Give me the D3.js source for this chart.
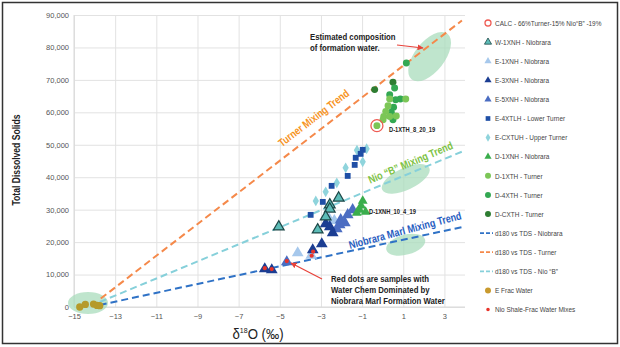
<!DOCTYPE html>
<html>
<head>
<meta charset="utf-8">
<script src="https://cdn.jsdelivr.net/npm/d3@7"></script>
<style>
  body { margin: 0; background: #fff; }
  svg text { font-family: "Liberation Sans", Arial, sans-serif; }
</style>
</head>
<body>
<script>
// chart values
const xTicks = [-15, -13, -11, -9, -7, -5, -3, -1, 1, 3];
const yTicks = [0, 10000, 20000, 30000, 40000, 50000, 60000, 70000, 80000, 90000];

const calc = [[-0.28, 55900]];
const w1xnh = [[-2.14, 33600], [-2.57, 31500], [-2.57, 30200], [-2.77, 27800], [-3.16, 23800], [-5.05, 24700]];
const e1xnh = [[-4.13, 16660], [-3.47, 15900], [-2.35, 26600], [-2.6, 27200]];
const e3xnh = [[-5.73, 11730], [-5.39, 11420], [-3.40, 17590], [-2.96, 19440], [-2.77, 25610], [-2.43, 22840], [-2.57, 24690]];
const e5xnh = [[-4.66, 13890], [-2.23, 24070], [-2.09, 25300], [-1.84, 25920], [-1.70, 28390], [-1.46, 29930], [-2.04, 26850]];
const e4xtlh = [[-0.97, 48450], [-1.07, 47200], [-1.31, 46000], [-1.36, 43800], [-1.70, 40400], [-2.48, 37340], [-2.91, 32400], [-3.50, 28400]];
const excxtuh = [[-0.78, 48760], [-1.25, 48300], [-0.97, 44750], [-1.80, 42900], [-2.23, 38270], [-2.77, 35500], [-3.25, 32700]];
const d1xnh = [[-0.97, 32700], [-1.05, 31200], [-1.12, 29900], [-1.26, 29000], [-0.83, 29300]];
const d1xth = [[-0.28, 55900], [0.34, 64100], [1.12, 64100], [0.26, 62000], [0.15, 60300], [0.05, 58700], [0.34, 58700], [0.02, 57700], [0.66, 58900]];
const d4xth = [[1.15, 75200], [0.58, 67500], [0.63, 63900], [0.86, 64100], [0.53, 61600], [0.42, 60000], [0.50, 57700], [0.34, 65400]];
const dcxth = [[0.50, 69300], [-0.39, 67000]];
const fracWater = [[-14.72, 0], [-14.45, 800], [-14.05, 900], [-13.88, 500], [-13.75, 400]];
const shaleMixes = [[-5.73, 11950], [-5.39, 11700], [-4.66, 14150], [-3.38, 17100], [-3.45, 15800]];

const niobraraTrend = [[-13.75, 620], [3.9, 24700]];
const turnerTrend = [[-13.7, 2600], [3.85, 88300]];
const nioBTrend = [[-13.75, 1540], [3.9, 48000]];

let margin = null, width = null, height = null;
let svg = null, plot = null;
let x, y = null;

setupCanvasSize();
appendSvg("body");
setupScales();
appendGrid();
appendEllipses();
appendTrendLines();
appendPoints();
appendAnnotations();
appendLegend();

function setupCanvasSize() {
  margin = {top: 15, left: 74, bottom: 40, right: 155};
  width = 620 - margin.left - margin.right;   // 391
  height = 347 - margin.top - margin.bottom;  // 292
}

function appendSvg(domElement) {
  svg = d3.select(domElement).append("svg")
    .attr("width", 620)
    .attr("height", 347);

  svg.append("rect")
    .attr("x", 2.5).attr("y", 2.5)
    .attr("width", 615).attr("height", 341)
    .style("fill", "#fff")
    .style("stroke", "#333")
    .style("stroke-width", 1.5);

  plot = svg.append("g")
    .attr("transform", `translate(${margin.left}, ${margin.top})`);
}

function setupScales() {
  x = d3.scaleLinear().domain([-15, 4]).range([0, width]);
  y = d3.scaleLinear().domain([0, 90000]).range([height, 0]);
}

// narrow text: the original uses a condensed face, so squeeze horizontally
function condText(parent, t, px, py, opt) {
  const o = Object.assign({size: 8, weight: "normal", fill: "#222", anchor: "start", rot: 0, sx: 0.84}, opt);
  return parent.append("text")
    .attr("transform", `translate(${px}, ${py}) rotate(${o.rot}) scale(${o.sx}, 1)`)
    .style("text-anchor", o.anchor)
    .style("font-size", o.size + "px")
    .style("font-weight", o.weight)
    .style("fill", o.fill)
    .text(t);
}

function appendGrid() {
  const xAxis = plot.append("g")
    .attr("transform", `translate(0, ${height})`)
    .call(d3.axisBottom(x).tickValues(xTicks).tickSize(-height).tickPadding(7).tickFormat(d3.format("d")));
  const yAxis = plot.append("g")
    .call(d3.axisLeft(y).tickValues(yTicks).tickSize(-width).tickPadding(5).tickFormat(d3.format(",")));

  [xAxis, yAxis].forEach(a => {
    a.select(".domain").remove();
    a.selectAll("line").style("stroke", "#e2e2e2").style("stroke-width", 1);
    a.selectAll("text").style("fill", "#555").style("font-size", "7.5px");
  });

  plot.append("line")
    .attr("x1", 0).attr("x2", width).attr("y1", height).attr("y2", height)
    .style("stroke", "#d8d8d8");
  plot.append("line")
    .attr("x1", 0).attr("x2", 0).attr("y1", 0).attr("y2", height)
    .style("stroke", "#d8d8d8");

  condText(svg, "Total Dissolved Solids", 20, 160, {size: 10, weight: "bold", anchor: "middle", rot: -90, sx: 0.86});

  const xl = svg.append("text")
    .attr("transform", "translate(258, 339) scale(0.88, 1)")
    .style("text-anchor", "middle")
    .style("font-size", "15px")
    .style("fill", "#222");
  xl.append("tspan").text("δ");
  xl.append("tspan").attr("dy", -6).style("font-size", "8px").text("18");
  xl.append("tspan").attr("dy", 6).text("O (‰)");
}

function appendEllipses() {
  const blobs = [
    {cx: -14.32, cy: 1230, rx: 20, ry: 11, rot: 0},
    {cx: 2.28, cy: 77150, rx: 29, ry: 15, rot: -52},
    {cx: 1.12, cy: 39500, rx: 26, ry: 11, rot: -25},
    {cx: 1.12, cy: 19200, rx: 20, ry: 10, rot: -15}
  ];
  plot.selectAll("ellipse.blob")
    .data(blobs)
    .enter()
    .append("ellipse")
    .attr("class", "blob")
    .attr("transform", d => `translate(${x(d.cx)}, ${y(d.cy)}) rotate(${d.rot})`)
    .attr("rx", d => d.rx)
    .attr("ry", d => d.ry)
    .style("fill", "#a9dcbc")
    .style("opacity", 0.75);
}

function appendTrendLines() {
  const line = d3.line().x(d => x(d[0])).y(d => y(d[1]));
  [[turnerTrend, "#f5894a"], [nioBTrend, "#86d0da"], [niobraraTrend, "#2f72c6"]].forEach(([data, color]) => {
    plot.append("path")
      .datum(data)
      .attr("d", line)
      .style("fill", "none")
      .style("stroke", color)
      .style("stroke-width", 2)
      .style("stroke-dasharray", "7,4");
  });
}

function drawSymbols(data, type, size, fill, stroke, sw) {
  plot.append("g").selectAll("path")
    .data(data)
    .enter()
    .append("path")
    .attr("transform", d => `translate(${x(d[0])}, ${y(d[1])})`)
    .attr("d", d3.symbol().type(type).size(size))
    .style("fill", fill)
    .style("stroke", stroke || "none")
    .style("stroke-width", sw || 0);
}

function appendPoints() {
  drawSymbols(fracWater, d3.symbolCircle, 42, "#b59a2a");
  drawSymbols(excxtuh, d3.symbolDiamond, 34, "#8fd4dc");
  drawSymbols(e4xtlh, d3.symbolSquare, 34, "#1f4fa6");
  drawSymbols(e1xnh, d3.symbolTriangle, 60, "#a6c8ec");
  drawSymbols(e5xnh, d3.symbolTriangle, 60, "#4b6dc2");
  drawSymbols(e3xnh, d3.symbolTriangle, 60, "#1b3d92");
  drawSymbols(w1xnh, d3.symbolTriangle, 50, "#5cbcb7", "#1d4747", 1.2);
  drawSymbols(d1xnh, d3.symbolTriangle, 42, "#3aad4c");
  drawSymbols(dcxth, d3.symbolCircle, 38, "#2e7d32");
  drawSymbols(d4xth, d3.symbolCircle, 38, "#33a852");
  drawSymbols(d1xth, d3.symbolCircle, 38, "#7cc657");
  drawSymbols(shaleMixes, d3.symbolCircle, 14, "#e8342a");

  plot.selectAll("circle.calc")
    .data(calc)
    .enter()
    .append("circle")
    .attr("class", "calc")
    .attr("cx", d => x(d[0]))
    .attr("cy", d => y(d[1]))
    .attr("r", 6)
    .style("fill", "none")
    .style("stroke", "#ef5b53")
    .style("stroke-width", 1.3);
}

function appendAnnotations() {
  const red = "#e8423a";
  svg.append("defs").append("marker")
    .attr("id", "arrow")
    .attr("viewBox", "0 0 10 10")
    .attr("refX", 9).attr("refY", 5)
    .attr("markerWidth", 5).attr("markerHeight", 5)
    .attr("orient", "auto")
    .append("path")
    .attr("d", "M0,0 L10,5 L0,10 z")
    .style("fill", red);

  svg.append("line")
    .attr("x1", 397).attr("y1", 45).attr("x2", 423).attr("y2", 48)
    .style("stroke", red).style("stroke-width", 1.2)
    .attr("marker-end", "url(#arrow)");
  svg.append("line")
    .attr("x1", 322).attr("y1", 279).attr("x2", 291).attr("y2", 263)
    .style("stroke", red).style("stroke-width", 1.2)
    .attr("marker-end", "url(#arrow)");

  const b = {size: 9.5, weight: "bold", sx: 0.82};
  condText(svg, "Estimated composition", 310, 40, b);
  condText(svg, "of formation water.", 310, 51, b);
  condText(svg, "Red dots are samples with", 331, 282, b);
  condText(svg, "Water Chem Dominated by", 331, 293, b);
  condText(svg, "Niobrara Marl Formation Water", 331, 304, b);
  condText(svg, "D-1XTH_8_20_19", 389, 132, {size: 7, weight: "bold", sx: 0.82});
  condText(svg, "D-1XNH_10_4_19", 369, 214, {size: 7, weight: "bold", sx: 0.82});

  condText(svg, "Turner Mixing Trend", 316, 121, {size: 11, weight: "bold", anchor: "middle", rot: -37.5, sx: 0.82, fill: "#f7931e"});
  condText(svg, "Nio “B” Mixing Trend", 412, 166, {size: 11, weight: "bold", anchor: "middle", rot: -23, sx: 0.82, fill: "#7cc243"});
  condText(svg, "Niobrara Marl Mixing Trend", 406, 234, {size: 11, weight: "bold", anchor: "middle", rot: -15, sx: 0.82, fill: "#1f5cbf"});
}

function appendLegend() {
  const items = [
    {label: "CALC - 66%Turner-15% Nio“B” -19%", kind: "calc"},
    {label: "W-1XNH - Niobrara", kind: "sym", type: d3.symbolTriangle, size: 22, fill: "#5cbcb7", stroke: "#1d4747"},
    {label: "E-1XNH - Niobrara", kind: "sym", type: d3.symbolTriangle, size: 22, fill: "#a6c8ec"},
    {label: "E-3XNH - Niobrara", kind: "sym", type: d3.symbolTriangle, size: 22, fill: "#1b3d92"},
    {label: "E-5XNH - Niobrara", kind: "sym", type: d3.symbolTriangle, size: 22, fill: "#4b6dc2"},
    {label: "E-4XTLH - Lower Turner", kind: "sym", type: d3.symbolSquare, size: 22, fill: "#1f4fa6"},
    {label: "E-CXTUH - Upper Turner", kind: "sym", type: d3.symbolDiamond, size: 20, fill: "#8fd4dc"},
    {label: "D-1XNH - Niobrara", kind: "sym", type: d3.symbolTriangle, size: 22, fill: "#3aad4c"},
    {label: "D-1XTH - Turner", kind: "sym", type: d3.symbolCircle, size: 28, fill: "#7cc657"},
    {label: "D-4XTH - Turner", kind: "sym", type: d3.symbolCircle, size: 28, fill: "#33a852"},
    {label: "D-CXTH - Turner", kind: "sym", type: d3.symbolCircle, size: 28, fill: "#2e7d32"},
    {label: "d180 vs TDS - Niobrara", kind: "line", color: "#2f72c6"},
    {label: "d180 vs TDS - Turner", kind: "line", color: "#f5894a"},
    {label: "d180 vs TDS - Nio “B”", kind: "line", color: "#86d0da"},
    {label: "E Frac Water", kind: "sym", type: d3.symbolCircle, size: 28, fill: "#c99a2e"},
    {label: "Nio Shale-Frac Water Mixes", kind: "sym", type: d3.symbolCircle, size: 10, fill: "#e8342a"}
  ];

  const legend = svg.append("g")
    .attr("class", "legend")
    .attr("transform", "translate(488, 23)");

  const rows = legend.selectAll("g")
    .data(items)
    .enter()
    .append("g")
    .attr("transform", (d, i) => `translate(0, ${i * 19.1})`);

  rows.each(function (d) {
    const g = d3.select(this);
    if (d.kind === "calc") {
      g.append("circle").attr("r", 3).style("fill", "none").style("stroke", "#ef5b53").style("stroke-width", 1.3);
    } else if (d.kind === "line") {
      g.append("line").attr("x1", -8).attr("x2", 5).attr("y1", 0).attr("y2", 0)
        .style("stroke", d.color).style("stroke-width", 1.8).style("stroke-dasharray", "4,2");
    } else {
      g.append("path").attr("d", d3.symbol().type(d.type).size(d.size))
        .style("fill", d.fill).style("stroke", d.stroke || "none").style("stroke-width", d.stroke ? 0.8 : 0);
    }
    condText(g, d.label, 7, 2.7, {size: 7.5, fill: "#444", sx: 0.86});
  });
}
</script>
</body>
</html>
